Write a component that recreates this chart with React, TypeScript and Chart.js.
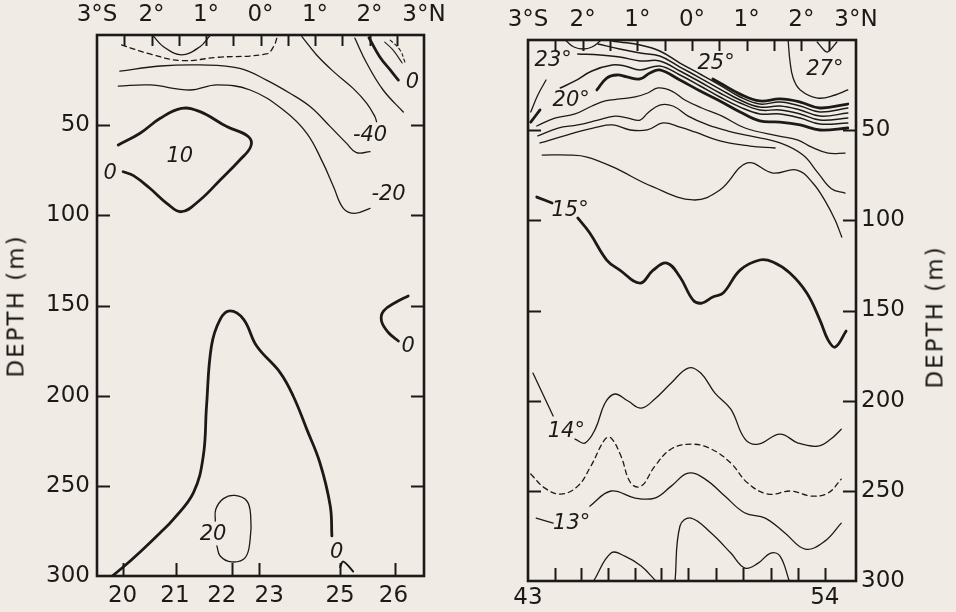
import React, { useEffect, useRef } from "react";
import { Chart, registerables } from "chart.js";

Chart.register(...registerables);

const INK = "#1c1a18";
const BG = "#f0ece5";
const FONT = "'DejaVu Sans', 'Liberation Sans', sans-serif";

type Pt = [number, number];
type Lbl = [string, number, number];

// ---------- shared axes ----------
const LAT_MIN = -3;
const LAT_MAX = 3;
const LAT_STEP = 0.5;
const DEPTH_MIN = 0;
const DEPTH_MAX = 300;
const DEPTH_STEP = 50;

// ---------- left panel (velocity, cm/s) ----------
const LEFT_STATION_NAMES = ["20", "21", "22", "23", "25", "26"];
const LEFT_STATION_LAT = [-2.53, -1.55, -0.53, -0.02, 1.46, 2.47];
const LEFT_STATION_LABEL_LAT = [-2.53, -1.57, -0.71, 0.16, 1.46, 2.44];

const L_DASH_TOP: Pt[] = [[-2.55, 5.5], [-2.03, 10.5], [-1.45, 14.2], [-0.8, 12.4], [0.11, 10.5], [0.24, 6.5], [0.3, 1.8]];
const L_CAP: Pt[] = [[-1.97, 0.5], [-1.78, 6.5], [-1.45, 11], [-1.11, 6.5], [-0.93, 0.5]];
const L_M40_A: Pt[] = [[0.76, 0.9], [1.03, 11.1], [1.34, 20.3], [1.7, 29.6], [1.95, 37.9], [2.1, 45.3], [2.13, 48.1]];
const L_M40_B: Pt[] = [[2.01, 64.7], [1.76, 65.2], [1.58, 60.1], [1.28, 50.8], [0.91, 39.7], [0.54, 32.3], [0.11, 25], [-0.38, 18.5], [-1.11, 16.6], [-1.84, 17.2], [-2.58, 20]];
const L_M20: Pt[] = [[-2.61, 28.3], [-2.03, 27.7], [-1.29, 30.5], [-0.8, 27.7], [-0.19, 30.5], [0.42, 41.6], [0.85, 54.5], [1.15, 71.2], [1.34, 84.1], [1.52, 96.1], [1.73, 98.9], [2.01, 96.1]];
const L_NE_THIN: Pt[] = [[1.73, 1.7], [1.95, 15.7], [2.25, 30.5], [2.62, 42.7]];
const L_NE_ZERO: Pt[] = [[1.99, 1.5], [2.19, 12.2], [2.38, 19.4], [2.53, 25]];
const L_NE_INNER: Pt[] = [[2.28, 3.9], [2.43, 8.3], [2.6, 15.5]];
const L_NE_DASH: Pt[] = [[2.38, 2.8], [2.56, 8.3], [2.65, 15]];
const L_CELL: Pt[] = [[-2.61, 61], [-2.21, 54.5], [-1.84, 46.2], [-1.45, 40.7], [-1.11, 42.5], [-0.62, 50.8], [-0.22, 56.4], [-0.18, 61.9], [-0.38, 69.3], [-0.74, 80.4], [-1.11, 91.5], [-1.45, 98], [-1.72, 93.3], [-2.03, 85], [-2.33, 78], [-2.52, 75.8]];
const L_CORE: Pt[] = [[-2.72, 300], [-2.46, 293.5], [-2.15, 285], [-1.84, 276], [-1.6, 268.6], [-1.23, 253.8], [-1.05, 233.5], [-0.99, 205.7], [-0.9, 172.5], [-0.74, 157.7], [-0.56, 153], [-0.31, 157.7], [-0.07, 172.5], [0.36, 187.2], [0.6, 200.2], [0.85, 218.7], [1.09, 237.2], [1.28, 261.2], [1.31, 277.8]];
const L_CORE_TAIL: Pt[] = [[1.46, 295], [1.52, 292], [1.7, 297.5]];
const L_LOOP20: Pt[] = [[-0.8, 283.3], [-0.74, 288.9], [-0.53, 292.2], [-0.28, 289.8], [-0.19, 279.7], [-0.18, 266.7], [-0.25, 258.4], [-0.47, 255.3], [-0.68, 257.1], [-0.82, 263], [-0.83, 269.5]];
const L_EAST_ZERO: Pt[] = [[2.71, 144.7], [2.5, 147.9], [2.26, 153], [2.22, 158.6], [2.35, 165.1], [2.53, 169.7]];

const LEFT_LABELS: Lbl[] = [
  ["0", 2.79, 26.4],
  ["-40", 2.01, 55.5],
  ["-20", 2.35, 88.7],
  ["0", -2.76, 76.7],
  ["10", -1.48, 67.5],
  ["0", 2.71, 173],
  ["20", -0.87, 276.9],
  ["0", 1.4, 287],
];

// ---------- right panel (temperature, °C) ----------
const RIGHT_STATION_NAMES = ["43", "44", "45", "46", "47", "48", "49", "50", "51", "52", "53", "54"];
const RIGHT_STATION_LAT = [-3.0, -2.51, -2.03, -1.54, -1.05, -0.57, -0.07, 0.44, 0.93, 1.44, 1.94, 2.43];

const R_ARC_S: Pt[] = [[-2.3, 0.6], [-2.16, 3.9], [-1.99, 5], [-1.83, 3.9], [-1.68, 0.6]];
const R_ARC_N: Pt[] = [[2.29, 1.1], [2.38, 4.4], [2.47, 6.7], [2.56, 4.4], [2.65, 1.1]];
const R_27: Pt[] = [[1.76, 0.6], [1.79, 11.1], [1.85, 21.1], [1.98, 27.7], [2.3, 32.2], [2.62, 30.5], [2.85, 27.7]];
const R_25: Pt[] = [[0.38, 21.6], [0.51, 23.8], [0.88, 30], [1.24, 33.8], [1.61, 32.7], [1.98, 34.4], [2.34, 37.7], [2.85, 35.5]];
const R_B1: Pt[] = [[-1.46, 0.6], [-1.32, 1.1], [-0.95, 2.8], [-0.59, 6.1], [-0.22, 12.8], [0.15, 18.9], [0.51, 25], [0.88, 31.6], [1.24, 35.5], [1.61, 34.4], [1.98, 36.6], [2.34, 39.9], [2.85, 37.7]];
const R_B2: Pt[] = [[-1.72, 2.2], [-1.32, 5], [-0.95, 7.2], [-0.59, 8.9], [-0.22, 15], [0.15, 21.1], [0.51, 27.2], [0.88, 33.3], [1.24, 37.2], [1.61, 36.6], [1.98, 38.8], [2.34, 42.2], [2.85, 40.5]];
const R_B3: Pt[] = [[-2.09, 7.8], [-1.68, 8.3], [-1.32, 9.4], [-0.95, 11.6], [-0.59, 11.6], [-0.22, 17.2], [0.15, 23.3], [0.51, 29.4], [0.88, 34.9], [1.24, 38.8], [1.61, 38.8], [1.98, 41], [2.34, 44.4], [2.85, 43.3]];
const R_B4: Pt[] = [[-2.41, 26.6], [-2.14, 22.7], [-1.83, 17.2], [-1.46, 13.9], [-1.23, 14.4], [-0.95, 16.6], [-0.59, 14.4], [-0.22, 19.4], [0.15, 25.5], [0.51, 31.6], [0.88, 37.2], [1.24, 41], [1.61, 41], [1.98, 43.3], [2.34, 46.6], [2.85, 46]];
const R_23_STUB: Pt[] = [[-2.95, 39.9], [-2.82, 30.5], [-2.67, 22.2]];
const R_20_STUB: Pt[] = [[-2.95, 45.5], [-2.78, 38.8]];
const R_20: Pt[] = [[-1.74, 27.7], [-1.56, 21.1], [-1.37, 19.4], [-1.19, 20.5], [-0.95, 21.6], [-0.77, 18.3], [-0.59, 16.6], [-0.22, 22.2], [0.15, 28.3], [0.51, 33.8], [0.88, 39.9], [1.24, 44.9], [1.61, 45.5], [1.98, 47.1], [2.34, 49.9], [2.85, 48.8]];
const R_C1: Pt[] = [[-2.84, 47.7], [-2.51, 43.3], [-2.14, 41], [-1.83, 36.6], [-1.59, 33.8], [-1.32, 32.7], [-1.04, 31.6], [-0.81, 29.4], [-0.62, 26.6], [-0.37, 28.3], [-0.13, 33.3], [0.18, 37.7], [0.55, 42.2], [0.97, 48.8], [1.57, 53.2], [1.94, 55.5], [2.18, 59.3], [2.49, 62.7], [2.8, 62.7]];
const R_C2: Pt[] = [[-2.82, 53.2], [-2.45, 48.8], [-2.09, 47.1], [-1.72, 44.4], [-1.41, 42.2], [-1.17, 43.3], [-0.95, 44.4], [-0.81, 40.5], [-0.59, 36.1], [-0.35, 36.6], [-0.07, 42.2], [0.29, 47.1], [0.66, 50.5], [1.06, 53.2], [1.61, 57.1], [2.03, 63.8], [2.3, 73.5], [2.55, 82.5], [2.8, 84.9]];
const R_C3: Pt[] = [[-2.78, 57.1], [-2.29, 52.7], [-1.74, 48.3], [-1.45, 47.1], [-1.13, 49.9], [-0.82, 49.9], [-0.53, 46], [-0.22, 48.3], [0.05, 51], [0.51, 56], [1.06, 58.8], [1.52, 59.9]];
const R_16: Pt[] = [[-2.74, 63.8], [-2.23, 63.8], [-1.92, 64.9], [-1.45, 70.4], [-0.71, 81.5], [0.02, 88.7], [0.51, 83.2], [1.01, 68.2], [1.48, 73.8], [1.92, 72.1], [2.21, 79.3], [2.45, 90], [2.62, 100], [2.74, 109.3]];
const R_15_STUB: Pt[] = [[-2.84, 87.1], [-2.56, 90.4]];
const R_15: Pt[] = [[-2.09, 98.7], [-1.87, 107], [-1.56, 122], [-1.32, 127.6], [-0.95, 134.8], [-0.71, 127.6], [-0.46, 123.7], [-0.22, 131.4], [0.02, 144.2], [0.18, 145.9], [0.38, 142.5], [0.57, 140.3], [0.88, 127.6], [1.24, 122], [1.48, 123.1], [1.79, 129.2], [2.1, 140.3], [2.34, 155.3], [2.49, 166.4], [2.62, 170.3], [2.82, 161.4]];
const R_14_STUB: Pt[] = [[-2.91, 184.7], [-2.54, 208.5]];
const R_14: Pt[] = [[-2.14, 221.3], [-1.96, 223.5], [-1.77, 215.8], [-1.59, 201.3], [-1.41, 196.3], [-1.17, 200.2], [-0.93, 204.1], [-0.68, 199.1], [-0.38, 190.2], [-0.07, 181.9], [0.16, 184.7], [0.42, 195.8], [0.71, 204.7], [0.97, 221.3], [1.21, 224.1], [1.61, 218.5], [1.94, 223.5], [2.3, 225.2], [2.54, 221.3], [2.73, 215.8]];
const R_DASH: Pt[] = [[-2.95, 240.7], [-2.69, 248.5], [-2.4, 251.8], [-2.09, 247.4], [-1.85, 236.3], [-1.59, 221.3], [-1.48, 220.7], [-1.3, 230.7], [-1.12, 245.7], [-0.93, 247.4], [-0.68, 236.3], [-0.38, 226.8], [-0.02, 224.1], [0.35, 226.8], [0.71, 234.6], [1.02, 245.7], [1.39, 251.8], [1.81, 250.1], [2.18, 252.9], [2.49, 251.2], [2.73, 243.5]];
const R_13_STUB: Pt[] = [[-2.85, 265.1], [-2.54, 267.9]];
const R_13: Pt[] = [[-1.87, 258.5], [-1.48, 250.1], [-1.04, 254], [-0.68, 254], [-0.38, 247.4], [-0.07, 240.2], [0.24, 243.5], [0.6, 252.9], [0.97, 262.3], [1.34, 265.1], [1.7, 273.4], [2.07, 282.3], [2.43, 277.9], [2.73, 267.9]];
const R_BOT1: Pt[] = [[-1.8, 300], [-1.48, 284.5], [-1.23, 286.2], [-0.93, 291.7], [-0.66, 300]];
const R_BOT2: Pt[] = [[-0.31, 300], [-0.22, 269.5], [-0.02, 265.1], [0.35, 273.4], [0.71, 284.5], [0.97, 292.8], [1.21, 290.1], [1.44, 284.5], [1.61, 286.2], [1.78, 300]];

const RIGHT_LABELS: Lbl[] = [
  ["23°", -2.54, 11.6],
  ["20°", -2.21, 33.8],
  ["25°", 0.44, 12.8],
  ["27°", 2.43, 16.6],
  ["15°", -2.23, 94.3],
  ["14°", -2.3, 216.9],
  ["13°", -2.2, 267.9],
];

// ---------- styles ----------
type Series = { pts: Pt[]; w: number; dash?: number[] };
const THIN = 1.3;
const THICK = 2.8;

const LEFT_SERIES: Series[] = [
  { pts: L_DASH_TOP, w: THIN, dash: [5, 4] },
  { pts: L_CAP, w: THIN },
  { pts: L_M40_A, w: THIN },
  { pts: L_M40_B, w: THIN },
  { pts: L_M20, w: THIN },
  { pts: L_NE_THIN, w: THIN },
  { pts: L_NE_ZERO, w: THICK },
  { pts: L_NE_INNER, w: 1.1 },
  { pts: L_NE_DASH, w: 1.1, dash: [3, 3] },
  { pts: L_CELL, w: THICK },
  { pts: L_CORE, w: THICK },
  { pts: L_CORE_TAIL, w: 2 },
  { pts: L_LOOP20, w: THIN },
  { pts: L_EAST_ZERO, w: THICK },
];

const RIGHT_SERIES: Series[] = [
  { pts: R_ARC_S, w: THIN },
  { pts: R_ARC_N, w: THIN },
  { pts: R_27, w: THIN },
  { pts: R_25, w: THICK },
  { pts: R_B1, w: 1.5 },
  { pts: R_B2, w: 1.5 },
  { pts: R_B3, w: 1.5 },
  { pts: R_B4, w: 1.5 },
  { pts: R_23_STUB, w: THIN },
  { pts: R_20_STUB, w: THICK },
  { pts: R_20, w: THICK },
  { pts: R_C1, w: THIN },
  { pts: R_C2, w: THIN },
  { pts: R_C3, w: THIN },
  { pts: R_16, w: THIN },
  { pts: R_15_STUB, w: THICK },
  { pts: R_15, w: THICK },
  { pts: R_14_STUB, w: THIN },
  { pts: R_14, w: THIN },
  { pts: R_DASH, w: THIN, dash: [5, 4] },
  { pts: R_13_STUB, w: THIN },
  { pts: R_13, w: THIN },
  { pts: R_BOT1, w: THIN },
  { pts: R_BOT2, w: THIN },
];

type Panel = {
  series: Series[];
  labels: Lbl[];
  stationLat: number[];
  stationLabelLat: number[];
  stationNames: string[];
  showAll: boolean;
  yPos: "left" | "right";
  pad: { left: number; right: number; top: number; bottom: number };
  topH: number;
  botH: number;
  yW: number;
  topPad: number;
  botPad: number;
  yPad: number;
};

const LEFT_PANEL: Panel = {
  series: LEFT_SERIES,
  labels: LEFT_LABELS,
  stationLat: LEFT_STATION_LAT,
  stationLabelLat: LEFT_STATION_LABEL_LAT,
  stationNames: LEFT_STATION_NAMES,
  showAll: true,
  yPos: "left",
  pad: { left: 0, right: 54, top: 0, bottom: 0 },
  topH: 35,
  botH: 36,
  yW: 97,
  topPad: 6,
  botPad: 6,
  yPad: 7,
};

const RIGHT_PANEL: Panel = {
  series: RIGHT_SERIES,
  labels: RIGHT_LABELS,
  stationLat: RIGHT_STATION_LAT,
  stationLabelLat: RIGHT_STATION_LAT,
  stationNames: RIGHT_STATION_NAMES,
  showAll: false,
  yPos: "right",
  pad: { left: 50, right: 0, top: 0, bottom: 0 },
  topH: 40,
  botH: 31,
  yW: 100,
  topPad: 6,
  botPad: 3,
  yPad: 5,
};

const latLabel = (v: number) => {
  const r = Math.round(v);
  if (Math.abs(v - r) > 1e-6) return "";
  if (r === -3) return "3°S";
  if (r === 3) return "3°N";
  return `${Math.abs(r)}°`;
};

function makeConfig(p: Panel): any {
  const tickFont = { family: FONT, size: 23 };
  const frame = {
    id: "frame",
    afterDraw(chart: any) {
      const { ctx, chartArea: a, scales } = chart;
      const sx = scales.x;
      const sy = scales.y;
      ctx.save();
      ctx.setLineDash([]);
      ctx.strokeStyle = INK;
      ctx.lineCap = "butt";

      // inward tick marks: latitude (top), stations (bottom), depth (both sides)
      ctx.lineWidth = 2;
      const nLat = Math.round((LAT_MAX - LAT_MIN) / LAT_STEP);
      for (let i = 1; i < nLat; i++) {
        const px = Math.round(sx.getPixelForValue(LAT_MIN + i * LAT_STEP)) + 0.5;
        ctx.beginPath();
        ctx.moveTo(px, a.top);
        ctx.lineTo(px, a.top + 11);
        ctx.stroke();
      }
      p.stationLat.forEach((lat) => {
        if (lat <= LAT_MIN + 0.01) return;
        const px = Math.round(sx.getPixelForValue(lat)) + 0.5;
        ctx.beginPath();
        ctx.moveTo(px, a.bottom);
        ctx.lineTo(px, a.bottom - 13);
        ctx.stroke();
      });
      for (let d = DEPTH_MIN + DEPTH_STEP; d < DEPTH_MAX; d += DEPTH_STEP) {
        const py = Math.round(sy.getPixelForValue(d)) + 0.5;
        ctx.beginPath();
        ctx.moveTo(a.left, py);
        ctx.lineTo(a.left + 13, py);
        ctx.moveTo(a.right - 13, py);
        ctx.lineTo(a.right, py);
        ctx.stroke();
      }

      ctx.lineWidth = 2.6;
      ctx.strokeRect(a.left, a.top, a.right - a.left, a.bottom - a.top);

      // contour labels
      ctx.fillStyle = INK;
      ctx.font = `italic 21px ${FONT}`;
      ctx.textAlign = "center";
      ctx.textBaseline = "middle";
      p.labels.forEach(([t, lat, d]) => {
        ctx.fillText(t, sx.getPixelForValue(lat), sy.getPixelForValue(d));
      });
      ctx.restore();
    },
  };

  return {
    type: "scatter",
    data: {
      datasets: p.series.map((s) => ({
        data: s.pts.map(([x, y]) => ({ x, y })),
        showLine: true,
        fill: false,
        tension: 0.4,
        pointRadius: 0,
        pointHoverRadius: 0,
        borderColor: INK,
        borderWidth: s.w,
        borderDash: s.dash || [],
        borderCapStyle: "round",
        borderJoinStyle: "round",
      })),
    },
    options: {
      responsive: false,
      animation: false,
      devicePixelRatio: 1,
      events: [],
      layout: { padding: p.pad },
      plugins: { legend: { display: false }, tooltip: { enabled: false } },
      scales: {
        x: {
          type: "linear",
          position: "top",
          min: LAT_MIN,
          max: LAT_MAX,
          grid: { display: false, drawTicks: false },
          border: { display: false },
          afterBuildTicks: (s: any) => {
            const out = [];
            for (let v = LAT_MIN; v <= LAT_MAX + 1e-9; v += 1) out.push({ value: v });
            s.ticks = out;
          },
          ticks: {
            autoSkip: false,
            maxRotation: 0,
            padding: p.topPad,
            color: INK,
            font: tickFont,
            callback: (v: number) => latLabel(v),
          },
          afterFit: (s: any) => {
            s.height = p.topH;
          },
        },
        xs: {
          type: "linear",
          axis: "x",
          position: "bottom",
          min: LAT_MIN,
          max: LAT_MAX,
          grid: { display: false, drawTicks: false },
          border: { display: false },
          afterBuildTicks: (s: any) => {
            s.ticks = p.stationLabelLat.map((v) => ({ value: v }));
          },
          ticks: {
            autoSkip: false,
            maxRotation: 0,
            padding: p.botPad,
            color: INK,
            font: tickFont,
            callback: (_v: number, i: number) =>
              p.showAll || i === 0 || i === p.stationNames.length - 1 ? p.stationNames[i] : "",
          },
          afterFit: (s: any) => {
            s.height = p.botH;
          },
        },
        y: {
          type: "linear",
          position: p.yPos,
          reverse: true,
          min: DEPTH_MIN,
          max: DEPTH_MAX,
          grid: { display: false, drawTicks: false },
          border: { display: false },
          ticks: {
            stepSize: DEPTH_STEP,
            padding: p.yPad,
            color: INK,
            font: tickFont,
            callback: (v: number) => (v === 0 ? "" : String(v)),
          },
          afterFit: (s: any) => {
            s.width = p.yW;
          },
        },
      },
    },
    plugins: [frame],
  };
}

const titleStyle = (x: number, y: number): React.CSSProperties => ({
  position: "absolute",
  left: x,
  top: y,
  transform: "translate(-50%, -50%) rotate(-90deg)",
  whiteSpace: "nowrap",
  fontFamily: FONT,
  fontSize: 23,
  letterSpacing: 2,
  color: INK,
  lineHeight: 1,
});

export default function App() {
  const leftRef = useRef<HTMLCanvasElement>(null);
  const rightRef = useRef<HTMLCanvasElement>(null);

  useEffect(() => {
    const a = new Chart(leftRef.current as HTMLCanvasElement, makeConfig(LEFT_PANEL));
    const b = new Chart(rightRef.current as HTMLCanvasElement, makeConfig(RIGHT_PANEL));
    return () => {
      a.destroy();
      b.destroy();
    };
  }, []);

  return (
    <div
      style={{
        position: "fixed",
        left: 0,
        top: 0,
        width: 956,
        height: 612,
        background: BG,
        overflow: "hidden",
      }}
    >
      <canvas ref={leftRef} width={478} height={612} style={{ position: "absolute", left: 0, top: 0 }} />
      <canvas ref={rightRef} width={478} height={612} style={{ position: "absolute", left: 478, top: 0 }} />
      <div style={titleStyle(16, 306)}>DEPTH (m)</div>
      <div style={titleStyle(935, 317)}>DEPTH (m)</div>
    </div>
  );
}
